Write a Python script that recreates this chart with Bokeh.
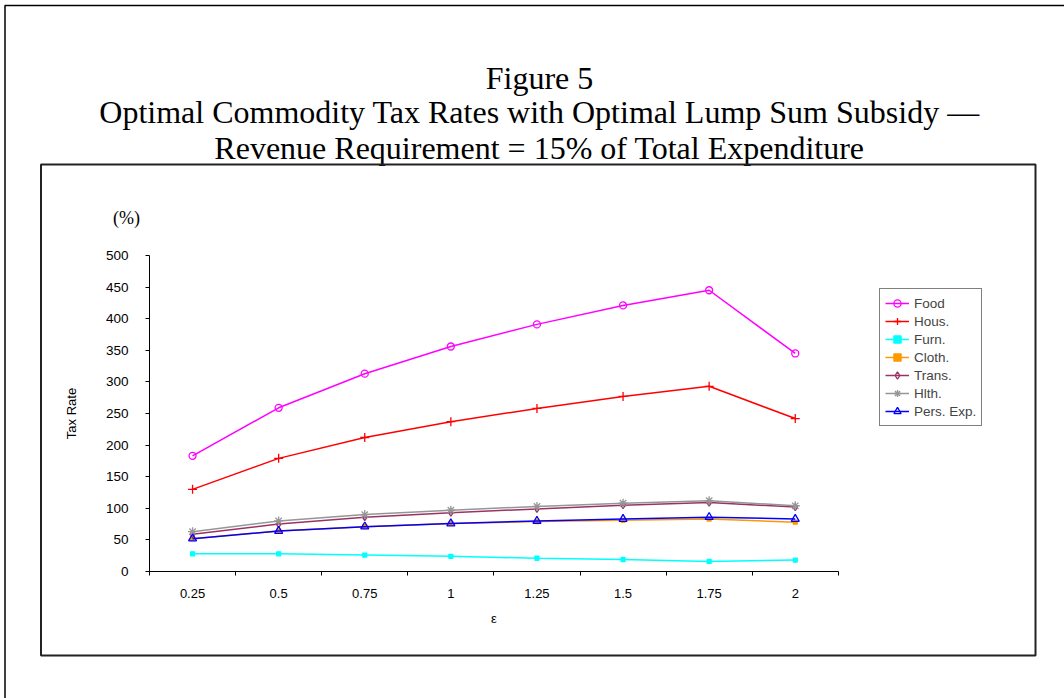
from bokeh.plotting import figure
from bokeh.models import (FixedTicker, Legend, LegendItem, Label, BoxAnnotation, ColumnDataSource,
                          LinearAxis, Range1d)
from bokeh.embed import file_html
from bokeh.resources import INLINE

eps_labels = ["0.25", "0.5", "0.75", "1", "1.25", "1.5", "1.75", "2"]
food = [183, 259, 313, 356, 391, 421, 445, 345]
hous = [130, 179, 212, 237, 258, 277, 293, 242]
furn = [28, 28, 26, 24, 21, 19, 16, 18]
cloth = [52, 64, 71, 76, 79, 81, 83, 78]
trans = [59, 75, 86, 93, 99, 105, 109, 102]
hlth = [63, 80, 90, 97, 103, 108, 112, 104]
pers = [52, 64, 71, 76, 80, 83, 86, 83]
series_names = ["Food", "Hous.", "Furn.", "Cloth.", "Trans.", "Hlth.", "Pers. Exp."]
yticks = list(range(0, 501, 50))

# layout (pixels)
W, H = 1064, 698
X0, XSTEP = 149.0, 86.1        # pixel of category boundary 0, pixels per category
Y0, YK = 571.0, 316.0 / 500.0  # pixel of y=0, pixels per unit

n = len(eps_labels)
p = figure(width=W, height=H, output_backend="svg", toolbar_location=None,
           x_range=Range1d(-X0 / XSTEP, (W - X0) / XSTEP),
           y_range=Range1d(-(H - Y0) / YK, Y0 / YK),
           x_axis_location=None, y_axis_location=None,
           min_border=0)
p.xgrid.visible = False
p.ygrid.visible = False
p.outline_line_color = None
p.background_fill_color = "white"
p.border_fill_color = "white"

xs = [i + 0.5 for i in range(n)]

ax = LinearAxis(fixed_location=0, bounds=(0, n))
ax.ticker = FixedTicker(ticks=xs, minor_ticks=list(range(0, n + 1)))
ax.major_label_overrides = {x: l for x, l in zip(xs, eps_labels)}
ax.major_tick_out = 0
ax.major_tick_in = 0
ax.minor_tick_out = 4
ax.minor_tick_in = 0
ax.minor_tick_line_color = "black"
ax.axis_line_color = "black"
ax.major_label_standoff = 13
ax.major_label_text_font = "Liberation Sans"
ax.major_label_text_font_size = "13px"
ax.major_label_text_color = "black"
ax.axis_label = "ε"
ax.axis_label_text_font = "Liberation Sans"
ax.axis_label_text_font_size = "13px"
ax.axis_label_text_font_style = "normal"
ax.axis_label_text_color = "black"
ax.axis_label_standoff = 10
p.add_layout(ax, "below")

ay = LinearAxis(fixed_location=0, bounds=(0, 500))
ay.ticker = FixedTicker(ticks=yticks, minor_ticks=[])
ay.major_tick_out = 4
ay.major_tick_in = 0
ay.axis_line_color = "black"
ay.major_tick_line_color = "black"
ay.major_label_standoff = 17
ay.major_label_text_font = "Liberation Sans"
ay.major_label_text_font_size = "13.5px"
ay.major_label_text_color = "black"
ay.axis_label = "Tax Rate"
ay.axis_label_text_font = "Liberation Sans"
ay.axis_label_text_font_size = "13px"
ay.axis_label_text_font_style = "normal"
ay.axis_label_text_color = "black"
ay.axis_label_standoff = 24
p.add_layout(ay, "left")

data = [food, hous, furn, cloth, trans, hlth, pers]
colors = ["#FF00FF", "#FF0000", "#00FFFF", "#FF9900", "#993366", "#969696", "#0000FF"]
markers = ["circle", "cross", "square", "square", "diamond", "asterisk", "triangle"]
sizes = [7, 9, 4, 4, 7, 9, 8]
fills = [None, None, "#00FFFF", "#FF9900", None, None, None]

items = []
for name, vals, c, m, s, f in zip(series_names, data, colors, markers, sizes, fills):
    src = ColumnDataSource(dict(x=xs, y=vals))
    r1 = p.line("x", "y", source=src, line_color=c, line_width=1.5)
    r2 = p.scatter("x", "y", source=src, marker=m, size=s, line_color=c,
                   fill_color=f if f else "white", fill_alpha=1.0 if f else 0.0, line_width=1.3)
    items.append(LegendItem(label=name, renderers=[r1, r2]))

leg = Legend(items=items, location=(879, H - 426), label_text_font="Liberation Sans",
             label_text_font_size="13.5px", label_height=18, glyph_height=18, glyph_width=24,
             spacing=0, padding=5, margin=0, border_line_color="black", border_line_width=1,
             label_standoff=5, background_fill_alpha=1.0)
p.add_layout(leg, "center")

# title lines (baselines in canvas pixels from top)
for txt, yy in [("Figure 5", 77), ("Optimal Commodity Tax Rates with Optimal Lump Sum Subsidy \u2014", 111),
                ("Revenue Requirement = 15% of Total Expenditure", 147)]:
    p.add_layout(Label(x=539, y=yy, x_units="canvas", y_units="canvas", text=txt,
                       text_align="center", text_baseline="alphabetic", text_font="Liberation Serif",
                       text_font_size="32px", text_color="black"))
p.add_layout(Label(x=126, y=217, x_units="canvas", y_units="canvas", text="(%)",
                   text_align="center", text_baseline="middle", text_font="Liberation Serif",
                   text_font_size="18px", text_color="black"))

# inner chart box and outer page border
p.add_layout(BoxAnnotation(left=40.5, right=1035, top=164, bottom=655, left_units="canvas", right_units="canvas",
                           top_units="canvas", bottom_units="canvas", fill_alpha=0, line_color="#222222",
                           line_alpha=1.0, line_width=2))
p.add_layout(BoxAnnotation(left=4.5, right=1080, top=5, bottom=720, left_units="canvas", right_units="canvas",
                           top_units="canvas", bottom_units="canvas", fill_alpha=0, line_color="black",
                           line_alpha=1.0, line_width=1.5))

open("out.html", "w").write(file_html(p, INLINE))
